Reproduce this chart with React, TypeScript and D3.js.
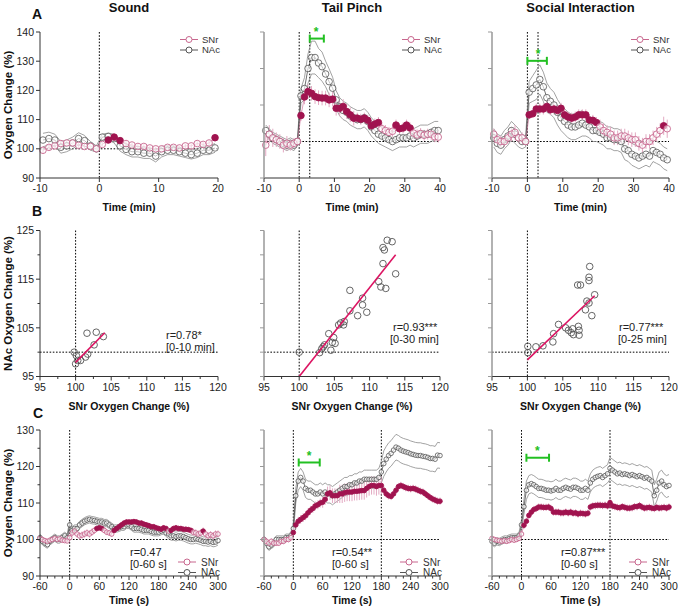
import React from 'react';
import * as d3 from 'd3';

const FONT = 'Arial, "Liberation Sans", Helvetica, sans-serif';
const PINK_FILL = '#a0134f';
const PINK_OPEN = '#c8678e';
const PINK_ERR = '#e3a9c2';
const GRAY = '#555555';
const BAND = '#8a8a8a';
const REG = '#dc1462';
const GREEN = '#22c022';

// ---------------- DATA ----------------
const colTitles = ['Sound', 'Tail Pinch', 'Social Interaction'];

const timeA1 = d3.range(-9.5, 20, 1);
const timeA23 = d3.range(-9.5, 40, 1);
const timeC = d3.range(-60, 301, 5);

// Row A (min)
const snrA1 = [99.5,100.5,101,101.8,102,102,101.2,100.8,100.8,100,101.5,103,104,102.8,101.8,101.3,100.8,100.8,100.3,100,100,100.5,100.5,100.3,101,101,101.8,101.5,102,103.8];
const snrSemA1 = [1.2,1,1,1,1,1,1,0.8,0.8,0.6,0.8,1,1,1,1,0.8,0.8,0.8,0.8,0.8,0.8,0.8,0.8,0.8,0.8,0.8,0.8,0.8,1,1.2];
const nacA1 = [103,103.5,103,100.5,101,102,103.5,102.8,101,100,104,104.2,103.5,101,99.8,99,99,98.5,98.5,97.5,99,99.5,99.5,99,98.5,98,98.5,99.5,99.5,100.3];
const nacSemA1 = [2.3,2.2,2,2,2,2,2,1.8,1.5,1,1,1.2,1.5,1.8,1.8,1.8,1.8,1.8,1.8,2,1.8,1.5,1.5,1.5,1.5,1.5,1.5,1.5,1.5,1.5];
const sigA1 = [[1.5, 3.5], [19.5, 19.5]];

const snrA2 = [99,102,101,100.5,100,99,99.5,99,99.5,100, 107.1,112.2,113.7,113.2,112.3,112,111.9,111.9,111.4,111.6, 109.1,109.1,109.6,108.2,107.3,106.4,106.4,106.1,106.4,105.8, 104.3,104.8,105.2,103.5,103,102.5,102.8,104.5,103.5,103.7, 104.5,103.7,102.3,101.8,102.2,101.7,102,102,101.3,101.2];
const snrSemA2 = [3,2.5,2.5,2,2,2,2,1.5,1.5,1, 1.5,2,2,2,2,2,2,2,2,2, 2,2,2,2,2,2,1.5,1.5,1.5,1.5, 1.5,1.5,1.5,1.5,1.5,1.5,1.5,1.5,1.5,1.5, 1.5,1.5,1.5,1.5,1.5,1.5,1.5,1.5,1.5,1.5];
const nacA2 = [103,102,101,100.5,100,99.5,99,99.5,99,100, 112.5,114.5,120,123,123,121.5,120.5,118.5,116.4,114.6, 111.4,109.5,108.5,108,107,106.5,106,106,106.5,105.5, 104,103,102,101.5,101,100.5,100,100.5,101,101, 101,101.5,101,101.5,102,102,102,102.5,103,103];
const nacSemA2 = [1.5,1.5,1.5,1.5,1.5,1.5,1.5,1.5,1.5,1, 2,3,4,4.5,4.5,4,4,3.5,3.5,3, 2.5,2.5,2.5,2.5,2.5,2.5,2.5,2.5,2.5,2.5, 2.5,2.5,2.5,2.5,2.5,2.5,2.5,2.5,2.5,2.5, 2.5,2.5,2.5,2.5,2.5,2.5,2.5,2.5,2.5,2.5];
const sigA2 = [[0.5, 22.5], [27.5, 31.5]];

const snrA3 = [102,100.5,100,100,101,102,102.5,101,101,100, 107.3,107.6,108.9,108.9,108.9,109.6,108.7,108.9,108.5,109.1, 107.3,106.7,106.4,106.7,107.3,107.3,107.3,105.9,105.8,105.2, 104,103,102.5,102,101,101,101.5,101.5,101,100.5, 100.5,99.5,99,100,100,101,102,103,104.3,103.5];
const snrSemA3 = [1.5,1.5,1.5,1.5,1.5,2,2,1.5,1.5,1, 1,1,1.5,1.5,1.5,1.5,1.5,1.5,1.5,1.5, 1.5,1.5,1.5,1.5,1.5,1.5,1.5,1.5,1.5,1.5, 2,2,2,2,2,2,2,2,2,2, 2,2,2,2,2,2,2,2,2.5,2.5];
const nacA3 = [101,99.5,99,100.5,101.5,103,102,101,100,100, 113.5,114.5,115.5,117,115,112,111,110,108,106.5, 105.5,104.5,104,104,104.5,105,104.5,104,103,103, 102.5,102,101,101,100.5,100.5,100,98,97.5,96.5, 96,95.5,96,96.5,96,97.5,97,96.5,95.5,95];
const nacSemA3 = [2.5,2.5,2.5,2.5,2.5,2.5,2.5,2.5,2,1.5, 3,3.5,4,4,4,4,3.5,3.5,3.5,3.5, 3.5,3.5,3.5,3.5,3.5,3.5,3,3,3,3, 3,3,3,3,3,3,3,3,3,3, 3,3,3,3,3,3,3,3,3,3];
const sigA3 = [[0.5, 19.5], [38.5, 38.5]];

// Row B (SNr vs NAc)
const snrB1 = [99.8,100,100.3,100.7,101.4,101.7,101.6,102.9,102.6,103.9,100.1];
const nacB1 = [100,97.6,98.3,98.3,99,99.6,103.9,104.1,101.5,103.2,99.3];
const fitB1 = [[100, 97.9], [104.1, 104]];
const snrB2 = [100,102.9,103.2,103.4,103.6,104.2,104.9,104.7,105.1,104.5,105.6,105.9,106.3,106.4,107.2,107.2,108.3,109,109,109.6,111.3,111.6,112.3,111.9,111.9,112.1,112.5,113.2,113.7];
const nacB2 = [100,99.9,100.7,101.1,101.5,103.8,103,102,101.8,100.4,105.6,106,105.6,106.3,108.5,112.7,107.5,111.1,109.7,108.2,114.5,113.4,113.1,118.2,121.5,121,123,122.7,116.1];
const fitB2 = [[100, 95], [113.7, 120]];
const snrB3 = [100.06,100.06,101.2,102.2,103.6,103.7,104.4,105.4,105.8,106.2,106.5,106.4,107.2,107.3,107.3,107.1,107.5,108.2,108.4,108.7,108.7,108.7,108.8,109.1,109.5];
const nacB3 = [101.2,99.9,101.1,101.3,102.1,103.8,105.7,105,104.5,104,103.6,104.8,105.3,104.5,103.5,113.8,113.8,108.7,110.5,110.1,115.4,114.7,117.6,107.5,111.8];
const fitB3 = [[100, 98.4], [109.5, 111.6]];
const rTextB = [['r=0.78*', '[0-10 min]'], ['r=0.93***', '[0-30 min]'], ['r=0.77***', '[0-25 min]']];

// Row C (s)
const snrC1 = [100.3,100,99.7,99.5,99.8,100,100.3,100,100.2,99.8,99.7,99.6,
  100.5,101.8,102.3,101.5,101,101.2,101.5,101.8,101.5,102,
  102.5,103,103.2,103,102.5,102,101.8,101.5,102.5,103,
  103.5,104,104.5,104.8,104.8,104.8,104.9,104.8,104.5,104.5,
  104.2,104,103.8,103.5,103.5,103.2,103,102.8,103.2,103,
  102.3,102.5,103,103.2,103,103,102.8,102.8,102.7,102.5,
  102,101.8,101.5,101.8,102.3,101.5,101,101.3,101,101.5,101.5];
const snrSemC1 = [0.5,0.5,0.5,0.5,0.5,0.5,0.5,0.5,0.5,0.5,0.5,0.5,
  0.8,1,1,1,1,1,1,1,1,1, 1,0.8,0.8,0.8,0.8,0.8,0.8,0.8,0.8,0.8,
  0.8,0.8,0.8,0.8,0.8,0.8,0.8,0.8,0.8,0.8, 0.8,0.8,0.8,0.8,0.8,0.8,0.8,0.8,0.8,0.8,
  0.8,0.8,0.8,0.8,0.8,0.8,0.8,0.8,0.8,0.8, 1,1,1,1,1,1,1,1,1,1, 1];
const nacC1 = [100.5,99.5,99,98.6,99.5,100,100.5,100,100,100.5,101,100.5,
  104,102.5,103,103,104,104.5,105,105.3,105.5,105.3,
  105.2,105,104.8,104.8,104.5,104.5,104,103.5,103,103,
  103.2,103.5,103.5,104,104,103.5,103,103,103,102.8,
  102.5,102.5,102.5,102.2,102,102,102,102.3,102.5,101.8,
  101.5,101,101,100.8,101,101,100.8,100.5,100.2,100,
  100,100.2,100,99.8,99.5,99.5,99.3,99.5,99.2,99.3,99.7];
const nacSemC1 = [1,1,1,1,1,1,1,1,1,1,1,1,
  1,1,1,1,1,1,1,1,1,1, 1,1,1,1,1,1,1,1,1,1, 1,1,1,1,1,1,1,1,1,1,
  1,1,1,1,1,1,1,1,1,1, 1.2,1.2,1.2,1.2,1.2,1.2,1.2,1.2,1.2,1.2, 1.2,1.2,1.2,1.2,1.2,1.2,1.2,1.2,1.2,1.2, 1.2];
const sigC1 = [[55, 65], [90, 195], [205, 245], [270, 270]];

const snrC2 = [100,99.5,99,99.5,99,99,99,99.5,99.5,100,100,100.5,
  101.9,104,105,105.5,106,106.5,107.3,108,108.5,109.2,
  109.5,110,110.2,111,112.5,112.8,112,112,112,112.5,
  112.5,112.8,113,113,113,113.2,113.2,113.3,113.4,113.4,
  114,114.5,114.8,114.8,114.5,114.8,114.8,113.5,112.5,112,
  111.8,112.5,113.5,114.5,114.8,114.5,114.2,114,113.9,114,
  113.8,113.5,113.2,113,112.5,112,111.5,111.1,110.8,110.5,110.5];
const snrSemC2 = [0.8,0.8,0.8,0.8,0.8,0.8,0.8,0.8,0.8,0.8,0.8,0.8,
  1,1.2,1.2,1.2,1.2,1.2,1.2,1.2,1.2,1.2, 1.2,1.2,1.5,1.5,2,2,2,2,2,2.5,
  2.5,2.5,2.5,2.5,2.5,2.5,2.5,2.5,2.5,2.5, 2.5,2.5,2.5,2.5,2.5,2.5,2.5,1.2,1,1,
  1,1,1,1,1,1,1,1,1,1, 1,1,1,1,1,1,1,1,1,1, 1];
const nacC2 = [100,99,98,98.5,99,100,100,100,100,100.5,100.5,101,
  103,112,116,117,116,114,113.5,113.5,113,112.5,
  112.5,113,112.5,113,112.5,112.5,112,112.5,113,113.5,
  114,114.5,114.5,115,115,115.5,115.5,116,116,116.5,
  116.5,116.5,116.5,116.5,116.5,117,118.5,120.8,122,123,
  123.6,124.5,125.3,125,124.5,124.2,124,123.8,123.5,123.3,
  123.1,123,123,122.8,122.7,122.5,122.2,122.2,122,123.1,123];
const nacSemC2 = [1,1,1,1,1,1,1,1,1,1,1,1,
  1.5,2,2.5,2.5,2.5,2.5,2.5,2.5,2.5,2.5, 2.5,2.5,2.5,2.5,2.5,2.5,2.5,2.5,2.5,2.5,
  2.5,2.5,2.5,2.5,2.5,2.5,2.5,2.5,2.5,2.5, 2.5,2.5,2.5,2.5,2.5,2.5,3,3.5,3.5,3.5,
  3.5,3.5,3.5,3.5,3.5,3.5,3.5,3.5,3.5,3.5, 3.5,3.5,3.5,3.5,3.5,3.5,3.5,3.5,3.5,3.5, 3.5];
const sigC2 = [[0, 300]];

const snrC3 = [100.3,100,99.8,99.7,99.5,99.7,99.5,99.7,100,99.8,100,100.3,
  101.5,103.9,105,106.6,107.5,108.2,108.5,108.9,108.9,108.8,
  108.8,108.9,108.5,107.5,107.5,107.5,107.3,107.3,107.5,107.3,
  107.5,107.2,107.3,107,107.2,107.1,107,107.2,108.9,109.2,
  109.3,109.4,109.4,109.3,109.4,109.2,110.1,109.2,109,108.8,
  108.7,109,108.8,108.6,108.6,108.7,109,109,109.3,108.9,
  108.6,108.7,108.8,108.6,108.5,108.8,108.6,108.7,108.8,108.6,108.9];
const snrSemC3 = [0.6,0.6,0.6,0.6,0.6,0.6,0.6,0.6,0.6,0.6,0.6,0.6,
  1,1,1,1,1,1,1,1,1,1, 1,1,1,1,1,1,1,1,1,1, 1,1,1,1,1,1,1,1,1,1,
  1,1,1,1,1,1,1,1,1,1, 1,1,1,1,1,1,1,1,1,1, 1,1,1,1,1,1,1,1,1,1, 1];
const nacC3 = [99.5,99,99.5,99.3,99.7,100,100,100.3,100.5,100.5,100.5,101,
  104,109,113.5,115,115.3,115,114.5,114,114,113.8,
  113.5,113.5,113.3,113.5,114,113.5,113.5,114,114.3,114,
  113.8,114.3,114.3,114,113.5,113.5,114,113.5,115.5,116.5,
  117,117.3,117.5,117,117.5,118,119.5,119,118.5,118,
  118.2,117.8,118,117.8,117.5,117.8,117.5,117.2,117.5,117.2,
  116.8,117,116.5,116,112,113.5,115.5,116,115,114.5,114.8];
const nacSemC3 = [1,1,1,1,1,1,1,1,1,1,1,1,
  1.5,2,2.5,2.5,2.5,2.5,2.5,2.5,2.5,2.5, 2.5,2.5,2.5,2.5,2.5,2.5,2.5,2.5,2.5,2.5,
  2.5,2.5,2.5,2.5,2.5,2.5,2.5,2.5,2.5,2.5, 2.5,2.5,2.5,2.5,2.5,2.5,3,3,3,3,
  3,3,3,3,3,3,3,3,3,3, 3,3,3,3,3,3,3,3,3,3, 3];
const sigC3 = [[5, 300]];
const rTextC = [['r=0.47', '[0-60 s]'], ['r=0.54**', '[0-60 s]'], ['r=0.87***', '[0-60 s]']];

// ---------------- LAYOUT ----------------
const COLS = [[40, 218], [264, 440], [492, 669]];
const ROW_A = [32, 178];
const ROW_B = [230.5, 376.5];
const ROW_C = [430, 576];

const inRanges = (t, ranges) => ranges.some(([a, b]) => t >= a - 1e-6 && t <= b + 1e-6);

function Axes({ x, y, xr, yr, xTicks, xMinor, yTicks, yMinor, xLabels, yLabels, yColor, yWidth }) {
  const [yTop, yBot] = yr;
  return (
    <g fontFamily={FONT}>
      <line x1={xr[0]} x2={xr[1]} y1={yBot} y2={yBot} stroke="#333" strokeWidth={1} />
      <line x1={xr[0]} x2={xr[0]} y1={yTop} y2={yBot} stroke={yColor} strokeWidth={yWidth} />
      {xMinor.map((v) => (
        <line key={'xm' + v} x1={x(v)} x2={x(v)} y1={yBot} y2={yBot + 2.5} stroke="#333" />
      ))}
      {xTicks.map((v) => (
        <g key={'xt' + v}>
          <line x1={x(v)} x2={x(v)} y1={yBot} y2={yBot + 4} stroke="#333" />
          <text x={x(v)} y={yBot + 14} fontSize={10.5} textAnchor="middle" fill="#222">{xLabels(v)}</text>
        </g>
      ))}
      {yMinor.map((v) => (
        <line key={'ym' + v} x1={xr[0] - 2.5} x2={xr[0]} y1={y(v)} y2={y(v)} stroke={yColor} />
      ))}
      {yTicks.map((v) => (
        <g key={'yt' + v}>
          <line x1={xr[0] - 4} x2={xr[0]} y1={y(v)} y2={y(v)} stroke={yColor} />
          {yLabels ? (
            <text x={xr[0] - 6} y={y(v)} dy="0.35em" fontSize={10.5} textAnchor="end" fill="#222">{v}</text>
          ) : null}
        </g>
      ))}
    </g>
  );
}

function Legend({ xRight, y1, y2, fontSize, lineStart, lineEnd, textOff }) {
  const lx1 = xRight - lineStart, lx2 = xRight - lineEnd, cx = (lx1 + lx2) / 2;
  const tx = xRight - textOff;
  return (
    <g fontFamily={FONT} fontSize={fontSize}>
      <line x1={lx1} x2={lx2} y1={y1} y2={y1} stroke={PINK_OPEN} strokeWidth={1} />
      <circle cx={cx} cy={y1} r={3} fill="#fff" stroke={PINK_OPEN} strokeWidth={1} />
      <text x={tx} y={y1} dy="0.35em" fill="#333">SNr</text>
      <line x1={lx1} x2={lx2} y1={y2} y2={y2} stroke={GRAY} strokeWidth={1} />
      <circle cx={cx} cy={y2} r={3} fill="#fff" stroke={GRAY} strokeWidth={1} />
      <text x={tx} y={y2} dy="0.35em" fill="#333">NAc</text>
    </g>
  );
}

function SigBar({ x, y, t0, t1, yv, starT, starV }) {
  const yy = y(yv);
  return (
    <g>
      <line x1={x(t0)} x2={x(t1)} y1={yy} y2={yy} stroke={GREEN} strokeWidth={2} />
      <line x1={x(t0)} x2={x(t0)} y1={yy - 4} y2={yy + 4} stroke={GREEN} strokeWidth={2} />
      <line x1={x(t1)} x2={x(t1)} y1={yy - 4} y2={yy + 4} stroke={GREEN} strokeWidth={2} />
      <text x={x(starT)} y={y(starV)} dy="0.7em" textAnchor="middle" fontFamily={FONT} fontSize={12} fontWeight="bold" fill={GREEN}>*</text>
    </g>
  );
}

function TimePanel(p) {
  const x = d3.scaleLinear().domain(p.xDomain).range(p.xr);
  const y = d3.scaleLinear().domain(p.yDomain).range([p.yr[1], p.yr[0]]);
  const times = p.times;
  const line = d3.line().x((d, i) => x(times[i])).y((d) => y(d));
  const upper = p.nac.map((v, i) => v + p.nacSem[i]);
  const lower = p.nac.map((v, i) => v - p.nacSem[i]);
  const dash = '1.6,1.6';
  return (
    <g>
      <line x1={x(p.hFrom)} x2={p.xr[1]} y1={y(100)} y2={y(100)} stroke="#000" strokeWidth={1} strokeDasharray={dash} />
      {p.vlines.map((v) => (
        <line key={'v' + v} x1={x(v)} x2={x(v)} y1={p.yr[0]} y2={p.yr[1]} stroke="#000" strokeWidth={1} strokeDasharray={dash} />
      ))}
      <path d={line(upper)} fill="none" stroke={BAND} strokeWidth={0.8} />
      <path d={line(lower)} fill="none" stroke={BAND} strokeWidth={0.8} />
      <path d={line(p.nac)} fill="none" stroke="#333" strokeWidth={0.7} />
      {p.snr.map((v, i) => (
        <line key={'e' + i} x1={x(times[i])} x2={x(times[i])} y1={y(v - p.snrSem[i])} y2={y(v + p.snrSem[i])} stroke={PINK_ERR} strokeWidth={1} />
      ))}
      <path d={line(p.snr)} fill="none" stroke={PINK_OPEN} strokeWidth={0.6} />
      {p.nac.map((v, i) => (
        <circle key={'n' + i} cx={x(times[i])} cy={y(v)} r={p.r} fill="#fff" fillOpacity={0.6} stroke={GRAY} strokeWidth={0.8} />
      ))}
      {p.snr.map((v, i) => {
        const s = inRanges(times[i], p.sig);
        return (
          <circle key={'s' + i} cx={x(times[i])} cy={y(v)} r={p.r} fill={s ? PINK_FILL : '#fff'} fillOpacity={s ? 1 : 0.6} stroke={s ? PINK_FILL : PINK_OPEN} strokeWidth={0.9} />
        );
      })}
      <Axes x={x} y={y} xr={p.xr} yr={p.yr} xTicks={p.xTicks} xMinor={p.xMinor} yTicks={p.yTicks} yMinor={p.yMinor}
        xLabels={(v) => String(v)} yLabels={p.yLabels} yColor={p.yColor} yWidth={p.yWidth} />
      {p.sigBar ? <SigBar x={x} y={y} {...p.sigBar} /> : null}
      {p.children}
    </g>
  );
}

function ScatterPanel(p) {
  const x = d3.scaleLinear().domain([95, 120]).range(p.xr);
  const y = d3.scaleLinear().domain([95, 125]).range([p.yr[1], p.yr[0]]);
  const dash = '1.6,1.6';
  return (
    <g>
      <line x1={x(100)} x2={x(100)} y1={p.yr[0]} y2={p.yr[1]} stroke="#000" strokeDasharray={dash} />
      <line x1={p.xr[0]} x2={p.xr[1]} y1={y(100)} y2={y(100)} stroke="#000" strokeDasharray={dash} />
      {p.xs.map((v, i) => (
        <circle key={i} cx={x(v)} cy={y(p.ys[i])} r={3.3} fill="none" stroke={GRAY} strokeWidth={0.9} />
      ))}
      <line x1={x(p.fit[0][0])} y1={y(p.fit[0][1])} x2={x(p.fit[1][0])} y2={y(p.fit[1][1])} stroke={REG} strokeWidth={1.6} />
      <Axes x={x} y={y} xr={p.xr} yr={p.yr} xTicks={[95, 100, 105, 110, 115, 120]} xMinor={[97.5, 102.5, 107.5, 112.5, 117.5]}
        yTicks={p.yLabels ? [95, 105, 115, 125] : [95, 100, 105, 110, 115, 120, 125]} yMinor={p.yLabels ? [100, 110, 120] : []}
        xLabels={(v) => String(v)} yLabels={p.yLabels} yColor={p.yColor} yWidth={p.yWidth} />
      <text x={p.tx} y={p.ty} fontFamily={FONT} fontSize={11} fill="#222">{p.text[0]}</text>
      <text x={p.tx2} y={p.ty + 12} fontFamily={FONT} fontSize={11} fill="#222">{p.text[1]}</text>
    </g>
  );
}

export default function App() {
  const aYTicksFirst = [90, 100, 110, 120, 130, 140];
  const aYTicksOther = [90, 100, 110, 120, 130];
  const cXTicks = [-60, 0, 60, 120, 180, 240, 300];
  const cXMinor = d3.range(-45, 300, 15).filter((v) => v % 60 !== 0);
  const rowA = [
    { times: timeA1, xDomain: [-10, 20], xTicks: [-10, 0, 10, 20], yDomain: [90, 140], yTicks: aYTicksFirst, snr: snrA1, snrSem: snrSemA1, nac: nacA1, nacSem: nacSemA1, sig: sigA1, vlines: [0], sigBar: null },
    { times: timeA23, xDomain: [-10, 40], xTicks: [-10, 0, 10, 20, 30, 40], yDomain: [90, 130], yTicks: aYTicksOther, snr: snrA2, snrSem: snrSemA2, nac: nacA2, nacSem: nacSemA2, sig: sigA2, vlines: [0, 3], sigBar: { t0: 3, t1: 7, yv: 128.2, starT: 4.8, starV: 131.3 } },
    { times: timeA23, xDomain: [-10, 40], xTicks: [-10, 0, 10, 20, 30, 40], yDomain: [90, 130], yTicks: aYTicksOther, snr: snrA3, snrSem: snrSemA3, nac: nacA3, nacSem: nacSemA3, sig: sigA3, vlines: [0, 3], sigBar: { t0: 0, t1: 5.5, yv: 122.1, starT: 3, starV: 125.3 } },
  ];
  const rowC = [
    { snr: snrC1, snrSem: snrSemC1, nac: nacC1, nacSem: nacSemC1, sig: sigC1, vlines: [0], sigBar: null, tx: 130 },
    { snr: snrC2, snrSem: snrSemC2, nac: nacC2, nacSem: nacSemC2, sig: sigC2, vlines: [0, 180], sigBar: { t0: 11, t1: 54, yv: 121.1, starT: 32, starV: 124.2 }, tx: 332 },
    { snr: snrC3, snrSem: snrSemC3, nac: nacC3, nacSem: nacSemC3, sig: sigC3, vlines: [0, 180], sigBar: { t0: 10, t1: 56, yv: 122.4, starT: 32, starV: 125.5 }, tx: 561 },
  ];
  const rowB = [
    { xs: snrB1, ys: nacB1, fit: fitB1, tx: 166, tx2: 166, ty: 339 },
    { xs: snrB2, ys: nacB2, fit: fitB2, tx: 393, tx2: 390, ty: 331 },
    { xs: snrB3, ys: nacB3, fit: fitB3, tx: 619, tx2: 618, ty: 331 },
  ];
  return (
    <svg width={678} height={614} style={{ position: 'absolute', left: 0, top: 0, background: '#fff' }} fontFamily={FONT}>
      <rect width={678} height={614} fill="#fff" />
      {/* column titles */}
      {colTitles.map((t, i) => (
        <text key={t} x={(COLS[i][0] + COLS[i][1]) / 2} y={12} textAnchor="middle" fontSize={13} fontWeight="bold" fill="#111">{t}</text>
      ))}
      {/* panel letters */}
      <text x={32} y={19} fontSize={14} fontWeight="bold" fill="#111">A</text>
      <text x={32} y={216} fontSize={14} fontWeight="bold" fill="#111">B</text>
      <text x={33} y={418} fontSize={14} fontWeight="bold" fill="#111">C</text>
      {/* y titles */}
      <text transform={`translate(12,${(ROW_A[0] + ROW_A[1]) / 2}) rotate(-90)`} textAnchor="middle" fontSize={11.5} fontWeight="bold" fill="#111">Oxygen Change (%)</text>
      <text transform={`translate(12,${(ROW_B[0] + ROW_B[1]) / 2}) rotate(-90)`} textAnchor="middle" fontSize={11.5} fontWeight="bold" fill="#111">NAc Oxygen Change (%)</text>
      <text transform={`translate(12,${(ROW_C[0] + ROW_C[1]) / 2}) rotate(-90)`} textAnchor="middle" fontSize={11.5} fontWeight="bold" fill="#111">Oxygen Change (%)</text>

      {rowA.map((p, i) => (
        <TimePanel key={'A' + i} xr={COLS[i]} yr={ROW_A} times={p.times} xDomain={p.xDomain} yDomain={p.yDomain}
          xTicks={p.xTicks} xMinor={[]} yTicks={p.yTicks} yMinor={[]} yLabels={i === 0}
          yColor={i === 0 ? '#333' : '#999'} yWidth={i === 0 ? 1 : 1.5}
          snr={p.snr} snrSem={p.snrSem} nac={p.nac} nacSem={p.nacSem} sig={p.sig} vlines={p.vlines} hFrom={p.xDomain[0]} r={3.3} sigBar={p.sigBar}>
          <Legend xRight={COLS[i][1]} y1={39.5} y2={50} fontSize={9.5} lineStart={38} lineEnd={20} textOff={16} />
        </TimePanel>
      ))}
      {COLS.map((c, i) => (
        <text key={'ta' + i} x={(c[0] + c[1]) / 2} y={211} textAnchor="middle" fontSize={10.5} fontWeight="bold" fill="#111">Time (min)</text>
      ))}

      {rowB.map((p, i) => (
        <ScatterPanel key={'B' + i} xr={COLS[i]} yr={ROW_B} xs={p.xs} ys={p.ys} fit={p.fit} yLabels={i === 0}
          yColor={i === 0 ? '#333' : '#999'} yWidth={i === 0 ? 1 : 1.5} text={rTextB[i]} tx={p.tx} tx2={p.tx2} ty={p.ty} />
      ))}
      {COLS.map((c, i) => (
        <text key={'tb' + i} x={(c[0] + c[1]) / 2} y={410} textAnchor="middle" fontSize={10.5} fontWeight="bold" fill="#111">SNr Oxygen Change (%)</text>
      ))}

      {rowC.map((p, i) => (
        <TimePanel key={'C' + i} xr={COLS[i]} yr={ROW_C} times={timeC} xDomain={[-60, 300]} yDomain={[90, 130]}
          xTicks={cXTicks} xMinor={cXMinor} yTicks={i === 0 ? [90, 100, 110, 120, 130] : [90, 95, 100, 105, 110, 115, 120, 125, 130]}
          yMinor={i === 0 ? [95, 105, 115, 125] : []} yLabels={i === 0}
          yColor={i === 0 ? '#333' : '#999'} yWidth={i === 0 ? 1 : 1.5}
          snr={p.snr} snrSem={p.snrSem} nac={p.nac} nacSem={p.nacSem} sig={p.sig} vlines={p.vlines} hFrom={0} r={2.3} sigBar={p.sigBar}>
          <Legend xRight={COLS[i][1]} y1={562} y2={572.5} fontSize={10} lineStart={40} lineEnd={22} textOff={17} />
          <text x={p.tx} y={556} fontFamily={FONT} fontSize={11} fill="#222">{rTextC[i][0]}</text>
          <text x={p.tx} y={568} fontFamily={FONT} fontSize={11} fill="#222">{rTextC[i][1]}</text>
        </TimePanel>
      ))}
      {COLS.map((c, i) => (
        <text key={'tc' + i} x={(c[0] + c[1]) / 2} y={604} textAnchor="middle" fontSize={10.5} fontWeight="bold" fill="#111">Time (s)</text>
      ))}
    </svg>
  );
}
